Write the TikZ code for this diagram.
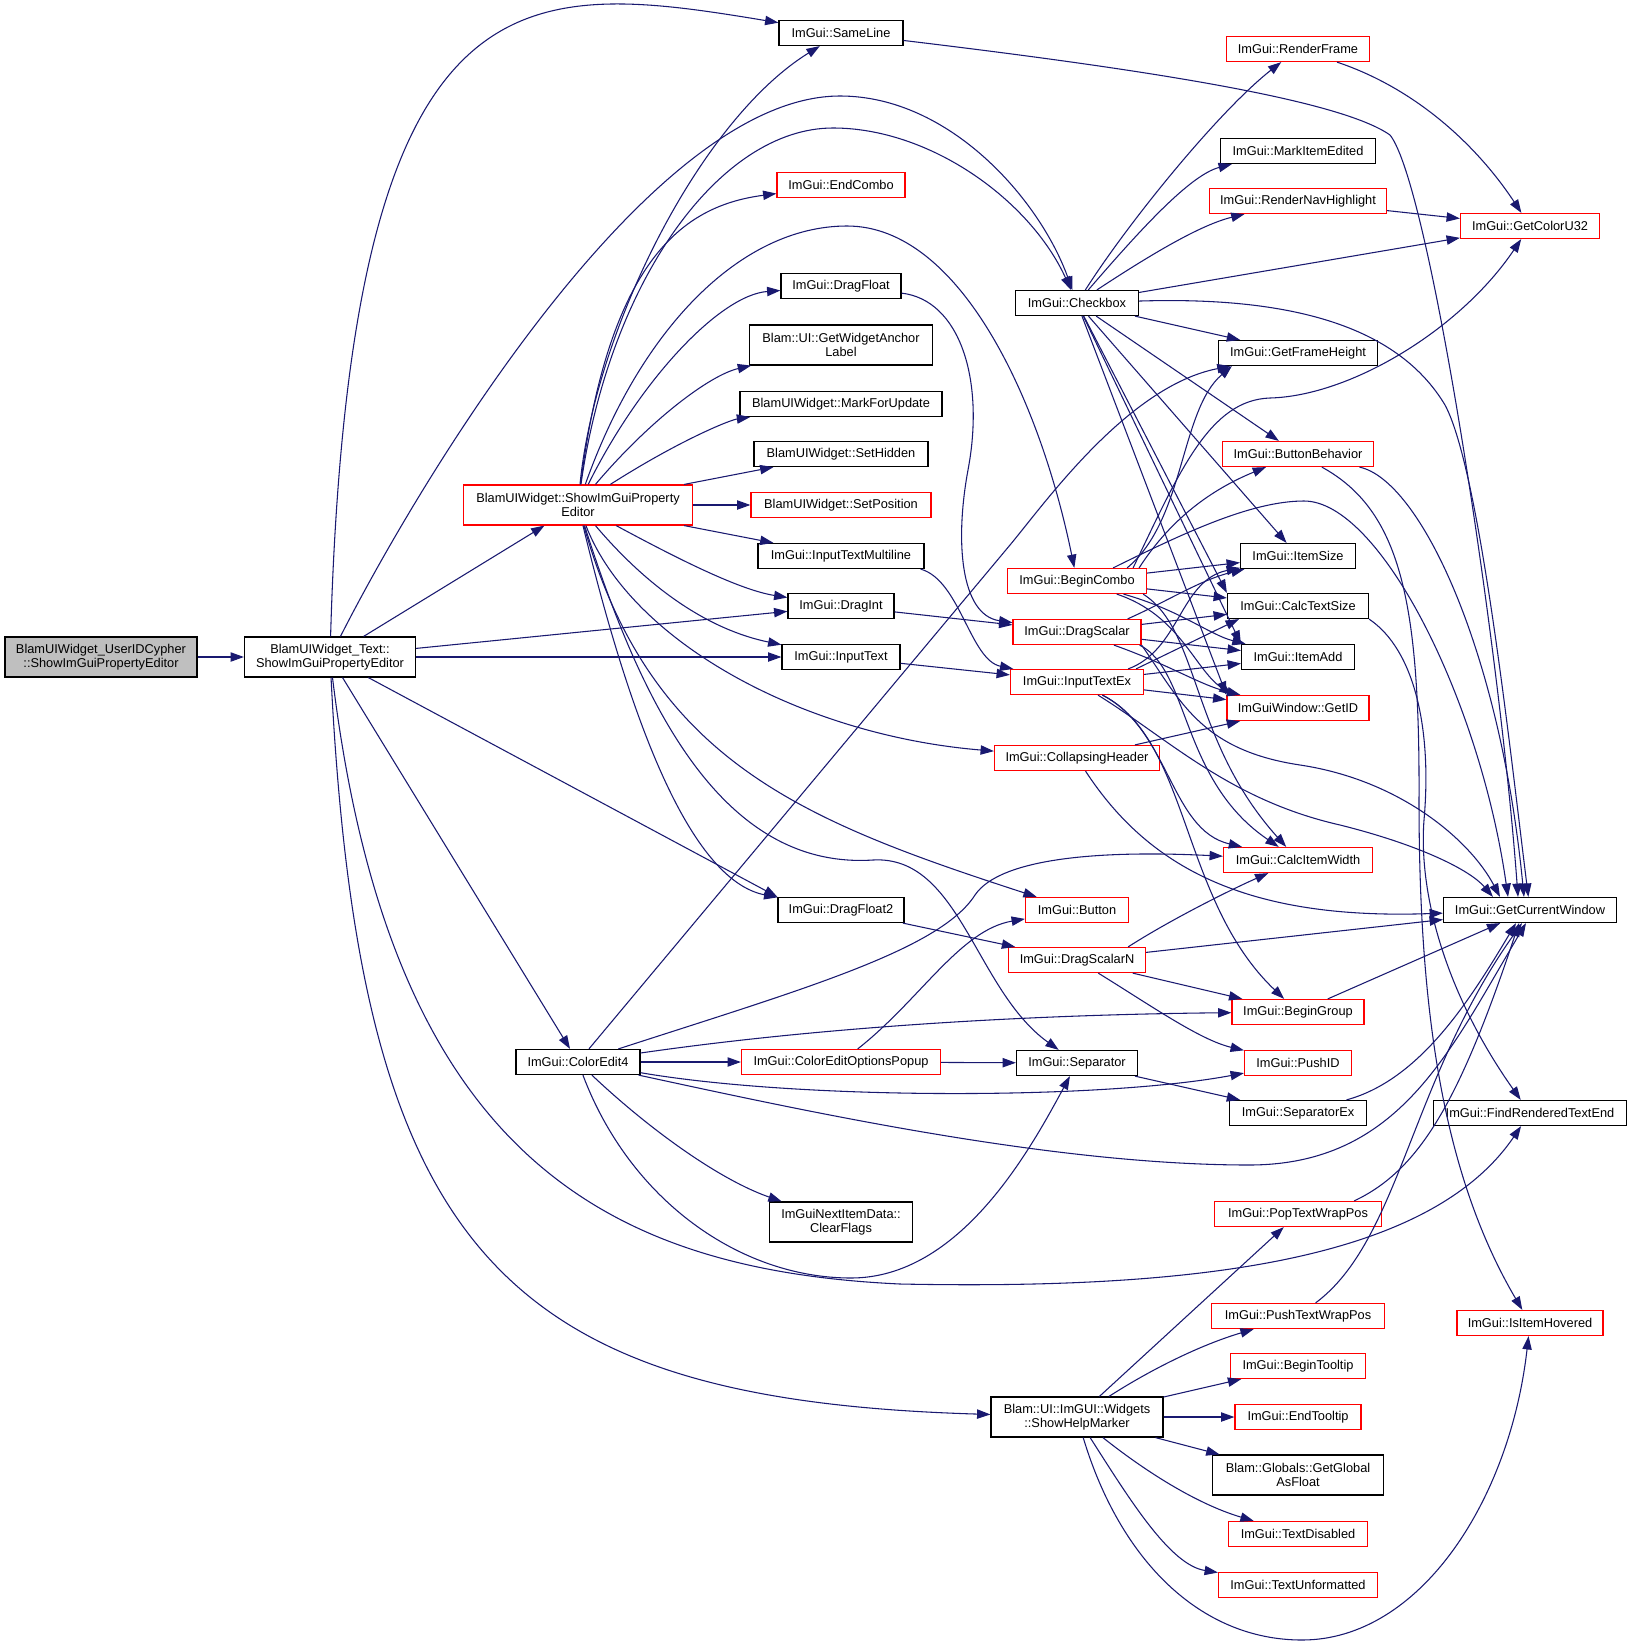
\documentclass[tikz,border=0pt]{standalone}
\usepackage{fontspec}
\setmainfont{Liberation Sans}
\usetikzlibrary{arrows.meta,calc}
\definecolor{edgeblue}{HTML}{191970}
\definecolor{rootgray}{HTML}{BFBFBF}
\tikzset{
  box/.style={draw=black, line width=0.9pt, fill=white, inner sep=0pt, align=center,
    font=\fontsize{9.6pt}{10.5pt}\selectfont},
  rbox/.style={box, draw=red},
  gbox/.style={box, fill=rootgray},
  sz/.style 2 args={minimum width=#1*0.75pt, minimum height=#2*0.75pt},
  e/.style={draw=edgeblue, line width=0.8pt, -{Triangle[length=10pt,width=7pt]}}
}
\begin{document}
\begin{tikzpicture}[x=0.75pt,y=-0.75pt]
\useasboundingbox (0,0) rectangle (1632,1645);
\fill[white] (0,0) rectangle (1632,1645);

% ---- nodes ----
\node[gbox, sz={192}{40}] (n1) at (101,657) {BlamUIWidget\_UserIDCypher\\::ShowImGuiPropertyEditor};
\node[box, sz={171}{40}] (n2) at (330,657) {BlamUIWidget\_Text::\\ShowImGuiPropertyEditor};
\node[rbox, sz={229}{40}] (sipe) at (578,505) {BlamUIWidget::ShowImGuiProperty\\Editor};
\node[box, sz={124}{25}] (ce4) at (578,1062) {ImGui::ColorEdit4};

\node[box, sz={124}{25}] (sameline) at (841,33) {ImGui::SameLine};
\node[rbox, sz={128}{25}] (endcombo) at (841,185) {ImGui::EndCombo};
\node[box, sz={120}{25}] (dragfloat) at (841,286) {ImGui::DragFloat};
\node[box, sz={183}{40}] (anchor) at (841,345) {Blam::UI::GetWidgetAnchor\\Label};
\node[box, sz={202}{25}] (markupd) at (841,404) {BlamUIWidget::MarkForUpdate};
\node[box, sz={174}{25}] (sethidden) at (841,454) {BlamUIWidget::SetHidden};
\node[rbox, sz={180}{25}] (setpos) at (841,505) {BlamUIWidget::SetPosition};
\node[box, sz={166}{25}] (itml) at (841,556) {ImGui::InputTextMultiline};
\node[box, sz={106}{25}] (dragint) at (841,606) {ImGui::DragInt};
\node[box, sz={118}{25}] (inputtext) at (841,657) {ImGui::InputText};
\node[box, sz={126}{25}] (dragfloat2) at (841,910) {ImGui::DragFloat2};
\node[rbox, sz={199}{25}] (ceop) at (841,1062) {ImGui::ColorEditOptionsPopup};
\node[box, sz={143}{40}] (clearflags) at (841,1222) {ImGuiNextItemData::\\ClearFlags};

\node[box, sz={123}{25}] (checkbox) at (1077,303) {ImGui::Checkbox};
\node[rbox, sz={139}{25}] (begincombo) at (1077,581) {ImGui::BeginCombo};
\node[rbox, sz={128}{25}] (dragscalar) at (1077,632) {ImGui::DragScalar};
\node[rbox, sz={133}{25}] (inputtextex) at (1077,682) {ImGui::InputTextEx};
\node[rbox, sz={165}{25}] (collapsing) at (1077,758) {ImGui::CollapsingHeader};
\node[rbox, sz={103}{25}] (button) at (1077,910) {ImGui::Button};
\node[rbox, sz={137}{25}] (dragscalarn) at (1077,960) {ImGui::DragScalarN};
\node[box, sz={121}{25}] (separator) at (1077,1063) {ImGui::Separator};
\node[box, sz={172}{40}] (helpmarker) at (1077,1417) {Blam::UI::ImGUI::Widgets\\::ShowHelpMarker};

\node[rbox, sz={143}{25}] (renderframe) at (1298,49) {ImGui::RenderFrame};
\node[box, sz={155}{25}] (markedited) at (1298,151) {ImGui::MarkItemEdited};
\node[rbox, sz={177}{25}] (rendernav) at (1298,201) {ImGui::RenderNavHighlight};
\node[box, sz={159}{25}] (framehgt) at (1298,353) {ImGui::GetFrameHeight};
\node[rbox, sz={151}{25}] (buttonbeh) at (1298,454) {ImGui::ButtonBehavior};
\node[box, sz={115}{25}] (itemsize) at (1298,556) {ImGui::ItemSize};
\node[box, sz={141}{25}] (calctext) at (1298,606) {ImGui::CalcTextSize};
\node[box, sz={113}{25}] (itemadd) at (1298,657) {ImGui::ItemAdd};
\node[rbox, sz={142}{25}] (getid) at (1298,708) {ImGuiWindow::GetID};
\node[rbox, sz={149}{25}] (calcw) at (1298,860) {ImGui::CalcItemWidth};
\node[rbox, sz={132}{25}] (begingroup) at (1298,1012) {ImGui::BeginGroup};
\node[rbox, sz={107}{25}] (pushid) at (1298,1063) {ImGui::PushID};
\node[box, sz={137}{25}] (sepex) at (1298,1113) {ImGui::SeparatorEx};
\node[rbox, sz={167}{25}] (poptw) at (1298,1214) {ImGui::PopTextWrapPos};
\node[rbox, sz={173}{25}] (pushtw) at (1298,1316) {ImGui::PushTextWrapPos};
\node[rbox, sz={135}{25}] (begintt) at (1298,1366) {ImGui::BeginTooltip};
\node[rbox, sz={126}{25}] (endtt) at (1298,1417) {ImGui::EndTooltip};
\node[box, sz={171}{40}] (globalf) at (1298,1475) {Blam::Globals::GetGlobal\\AsFloat};
\node[rbox, sz={139}{25}] (textdis) at (1298,1534) {ImGui::TextDisabled};
\node[rbox, sz={159}{25}] (textunf) at (1298,1585) {ImGui::TextUnformatted};

\node[rbox, sz={139}{25}] (colorU32) at (1530,226) {ImGui::GetColorU32};
\node[box, sz={173}{25}] (curwin) at (1530,910) {ImGui::GetCurrentWindow};
\node[box, sz={193}{25}] (findrte) at (1530,1113) {ImGui::FindRenderedTextEnd};
\node[rbox, sz={146}{25}] (ishovered) at (1530,1323) {ImGui::IsItemHovered};

% ---- edges ----
\draw[e] (n1) -- (n2);

\draw[e] (n2) .. controls (350,-40) and (520,-20) .. (sameline);
\draw[e] (n2) .. controls (420,480) and (650,96) .. (840,96) .. controls (950,96) and (1040,200) .. (checkbox);
\draw[e] (n2) -- (sipe);
\draw[e] (n2) -- (dragint);
\draw[e] (n2) -- (inputtext);
\draw[e] (n2) -- (dragfloat2.north west);
\draw[e] (n2) -- (ce4);
\draw[e] (n2) .. controls (360,1250) and (500,1400) .. (helpmarker);
\draw[e] (n2) .. controls (390,1150) and (600,1270) .. (900,1284) .. controls (1200,1290) and (1430,1260) .. (findrte);

\draw[e] (sipe) .. controls (595,330) and (700,120) .. (sameline);
\draw[e] (sipe) .. controls (610,280) and (720,128) .. (833,128) .. controls (930,128) and (1030,200) .. (checkbox);
\draw[e] (sipe) .. controls (610,250) and (690,205) .. (endcombo);
\draw[e] (sipe) .. controls (640,330) and (740,226) .. (847,226) .. controls (960,226) and (1040,400) .. (begincombo);
\draw[e] (sipe) .. controls (640,380) and (720,295) .. (dragfloat);
\draw[e] (sipe) .. controls (650,420) and (710,375) .. (anchor);
\draw[e] (sipe) .. controls (680,440) and (730,420) .. (markupd);
\draw[e] (sipe) -- (sethidden);
\draw[e] (sipe) -- (setpos);
\draw[e] (sipe) -- (itml);
\draw[e] (sipe) .. controls (680,560) and (740,590) .. (dragint);
\draw[e] (sipe) .. controls (650,590) and (710,630) .. (inputtext);
\draw[e] (sipe) .. controls (630,640) and (800,735) .. (collapsing);
\draw[e] (sipe) .. controls (650,760) and (800,820) .. (button);
\draw[e] (sipe) .. controls (640,700) and (720,870) .. (873,860) .. controls (960,855) and (975,990) .. (separator);
\draw[e] (sipe) .. controls (630,720) and (690,880) .. (dragfloat2);

\draw[e] (ce4) -- (1010,545) .. controls (1045,503) and (1128,386) .. (framehgt);
\draw[e] (ce4) .. controls (800,990) and (940,950) .. (975,895) .. controls (1000,858) and (1100,850) .. (calcw);
\draw[e] (ce4) .. controls (800,1030) and (1000,1015) .. (begingroup);
\draw[e] (ce4) -- (ceop);
\draw[e] (ce4) .. controls (800,1100) and (1100,1100) .. (pushid);
\draw[e] (ce4) .. controls (800,1110) and (1050,1165) .. (1249,1165) .. controls (1400,1165) and (1450,1050) .. ($(curwin.south)+(-4,0)$);
\draw[e] (ce4) .. controls (650,1130) and (720,1180) .. (clearflags);
\draw[e] (ce4) .. controls (630,1200) and (740,1278) .. (851,1278) .. controls (960,1278) and (1030,1150) .. (separator);

\draw[e] (ceop) -- (separator);
\draw[e] (ceop) .. controls (920,1000) and (960,930) .. (button);

\draw[e] (checkbox) .. controls (1130,220) and (1220,110) .. (renderframe);
\draw[e] (checkbox) .. controls (1140,230) and (1190,175) .. ($(markedited.south west)+(12,0)$);
\draw[e] (checkbox) .. controls (1150,255) and (1200,225) .. (rendernav);
\draw[e] (checkbox) -- (colorU32);
\draw[e] (checkbox) .. controls (1300,296) and (1400,330) .. (1445,405) .. controls (1480,470) and (1510,750) .. (curwin);
\draw[e] (checkbox) -- (framehgt);
\draw[e] (checkbox) -- (buttonbeh);
\draw[e] (checkbox) -- (itemsize);
\draw[e] (checkbox) -- (calctext.north west);
\draw[e] (checkbox) -- (itemadd.north west);
\draw[e] (checkbox) -- (getid.north west);

\draw[e] (renderframe) .. controls (1420,90) and (1480,150) .. (colorU32);
\draw[e] (rendernav) -- (colorU32);
\draw[e] (sameline) .. controls (1150,70) and (1340,100) .. (1390,135) .. controls (1430,185) and (1500,650) .. ($(curwin.north)+(-12,0)$);
\draw[e] (buttonbeh) .. controls (1420,480) and (1500,650) .. ($(curwin.north)+(-6,0)$);
\draw[e] (buttonbeh) .. controls (1400,510) and (1420,600) .. (1419,800) .. controls (1419,1000) and (1440,1170) .. (ishovered);
\draw[e] (calctext.south east) .. controls (1415,650) and (1432,730) .. (1424,820) .. controls (1418,900) and (1450,1000) .. (findrte);

\draw[e] ($(begincombo.north east)+(-20,0)$) .. controls (1185,520) and (1180,410) .. ($(framehgt.south west)+(14,0)$);
\draw[e] ($(begincombo.north east)+(-14,0)$) .. controls (1180,470) and (1210,400) .. (1270,398) .. controls (1350,396) and (1460,330) .. (colorU32);
\draw[e] ($(begincombo.north east)+(-8,0)$) .. controls (1170,520) and (1210,490) .. (buttonbeh);
\draw[e] ($(begincombo.north east)+(-34,0)$) .. controls (1180,535) and (1250,501) .. (1304,501) .. controls (1380,501) and (1480,700) .. ($(curwin.north)+(-22,0)$);
\draw[e] (begincombo) -- (itemsize);
\draw[e] (begincombo) -- (calctext);
\draw[e] (begincombo) .. controls (1180,610) and (1210,635) .. (itemadd);
\draw[e] (begincombo) .. controls (1180,615) and (1195,670) .. ($(getid.north west)+(6,0)$);
\draw[e] ($(begincombo.south east)+(-4,0)$) .. controls (1200,630) and (1190,740) .. (calcw);

\draw[e] ($(dragscalar.north east)+(-14,0)$) .. controls (1170,600) and (1200,580) .. (itemsize);
\draw[e] (dragscalar) -- (calctext);
\draw[e] (dragscalar) -- (itemadd);
\draw[e] (dragscalar) .. controls (1170,665) and (1200,685) .. ($(getid.north west)+(14,0)$);
\draw[e] ($(dragscalar.south east)+(-2,0)$) .. controls (1190,670) and (1180,780) .. (calcw);
\draw[e] (dragscalar.south east) .. controls (1180,700) and (1200,750) .. (1300,765) .. controls (1400,780) and (1470,840) .. ($(curwin.north)+(-30,0)$);

\draw[e] ($(inputtextex.north east)+(-16,0)$) .. controls (1180,650) and (1180,580) .. (itemsize);
\draw[e] ($(inputtextex.north east)+(-8,0)$) -- ($(calctext.south west)+(12,0)$);
\draw[e] (inputtextex) -- (itemadd);
\draw[e] (inputtextex) -- (getid);
\draw[e] (inputtextex) .. controls (1170,730) and (1170,830) .. (calcw);
\draw[e] (inputtextex) .. controls (1170,740) and (1230,800) .. (1340,825) .. controls (1420,845) and (1470,870) .. ($(curwin.north west)+(50,0)$);
\draw[e] (inputtextex) .. controls (1190,740) and (1180,900) .. (begingroup);

\draw[e] (collapsing) -- (getid);
\draw[e] (collapsing) .. controls (1150,870) and (1250,920) .. (curwin);

\draw[e] ($(dragscalarn.north east)+(-18,0)$) .. controls (1170,920) and (1230,890) .. (calcw);
\draw[e] (dragscalarn) -- (curwin);
\draw[e] (dragscalarn) -- (begingroup);
\draw[e] (dragscalarn) .. controls (1150,1005) and (1200,1040) .. (pushid);

\draw[e] (dragfloat2) -- (dragscalarn);
\draw[e] (inputtext) -- (inputtextex);
\draw[e] ($(itml.south east)+(-4,0)$) .. controls (960,580) and (970,660) .. (inputtextex);
\draw[e] (dragint) -- (dragscalar);
\draw[e] (dragfloat) .. controls (960,300) and (985,380) .. (968,470) .. controls (955,540) and (960,615) .. (dragscalar);

\draw[e] (separator) -- (sepex);
\draw[e] (sepex) .. controls (1420,1080) and (1470,1000) .. ($(curwin.south)+(-14,0)$);
\draw[e] (begingroup) -- (curwin);
\draw[e] ($(poptw.north east)+(-28,0)$) .. controls (1420,1170) and (1460,1100) .. ($(curwin.south)+(-11,0)$);
\draw[e] (pushtw) .. controls (1400,1240) and (1410,1080) .. ($(curwin.south)+(-8,0)$);

\draw[e] (helpmarker) -- (poptw);
\draw[e] (helpmarker) .. controls (1150,1370) and (1200,1345) .. (pushtw);
\draw[e] (helpmarker) -- (begintt);
\draw[e] (helpmarker) -- (endtt);
\draw[e] (helpmarker) -- (globalf);
\draw[e] (helpmarker) .. controls (1150,1475) and (1200,1505) .. (textdis);
\draw[e] (helpmarker) .. controls (1130,1500) and (1170,1565) .. (textunf);
\draw[e] (helpmarker) .. controls (1120,1560) and (1200,1640) .. (1302,1640) .. controls (1420,1640) and (1510,1500) .. (ishovered);
\end{tikzpicture}
\end{document}
